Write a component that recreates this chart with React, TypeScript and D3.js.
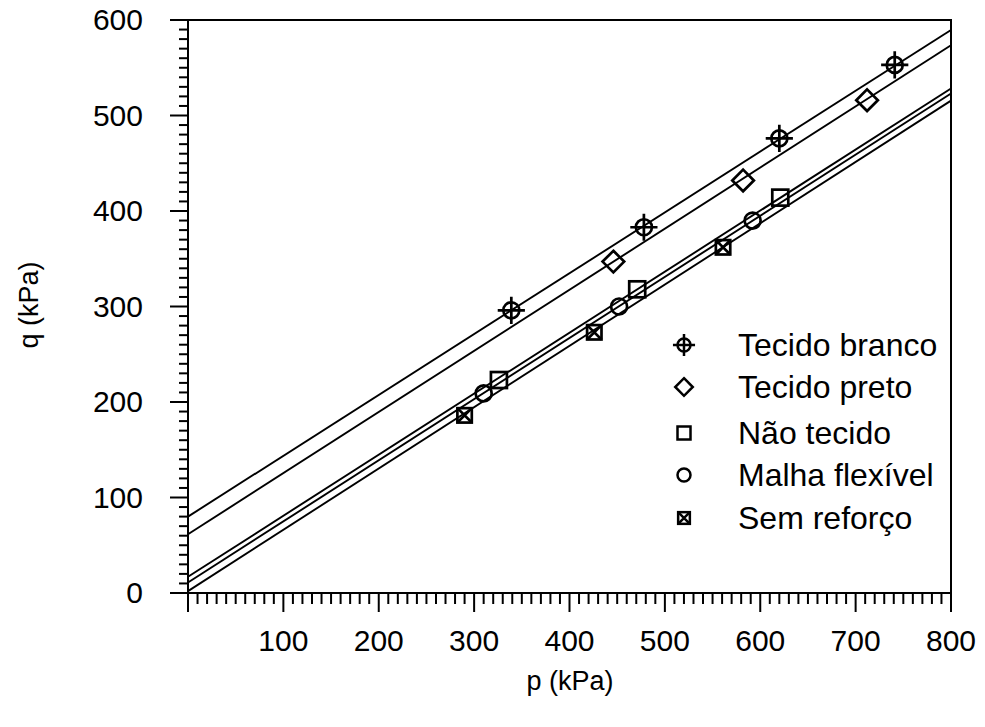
import { useEffect, useRef } from "react";
import * as d3 from "d3";

// series names (legend order)
const seriesNames = ["Tecido branco", "Tecido preto", "Não tecido", "Malha flexível", "Sem reforço"];
const seriesMarkers = ["crosshair", "diamond", "square", "circle", "xsquare"];

// measured points, p (kPa) and q (kPa)
const pTecidoBranco = [339, 478, 620, 741];
const qTecidoBranco = [296, 383, 476, 553];
const pTecidoPreto = [446, 582, 712];
const qTecidoPreto = [347, 432, 516];
const pNaoTecido = [326, 471, 621];
const qNaoTecido = [223, 318, 414];
const pMalha = [310, 452, 592];
const qMalha = [209, 300, 390];
const pSemReforco = [290, 426, 561];
const qSemReforco = [186, 273, 362];

// fitted lines: q = a + b * p
const fitIntercepts = [80, 61.5, 17, 11, 2];
const fitSlopes = [0.637, 0.64, 0.639, 0.64, 0.642];

const xTicks = [100, 200, 300, 400, 500, 600, 700, 800];
const yTicks = [0, 100, 200, 300, 400, 500, 600];

export default function App() {
  const ref = useRef<SVGSVGElement>(null);

  useEffect(() => {
    if (!ref.current) return;
    const svg = d3.select(ref.current);
    svg.selectAll("*").remove();

    const font = "'Liberation Sans', Arial, sans-serif";
    const x = d3.scaleLinear().domain([0, 800]).range([188, 951]);
    const y = d3.scaleLinear().domain([0, 600]).range([593, 20]);

    const pts = [
      [pTecidoBranco, qTecidoBranco],
      [pTecidoPreto, qTecidoPreto],
      [pNaoTecido, qNaoTecido],
      [pMalha, qMalha],
      [pSemReforco, qSemReforco],
    ];

    // fit lines
    const line = d3.line<number>().x((p) => x(p));
    const g = svg.append("g");
    fitIntercepts.forEach((a, i) => {
      const b = fitSlopes[i];
      const pEnd = Math.min(800, (600 - a) / b);
      g.append("path")
        .attr("d", line.y((p) => y(a + b * p))([0, pEnd]))
        .attr("fill", "none")
        .attr("stroke", "#000")
        .attr("stroke-width", 1.9);
    });

    const drawMarker = (sel: any, type: string, cx: number, cy: number, s: number, sw: number) => {
      const m = sel.append("g").attr("transform", `translate(${cx},${cy})`)
        .attr("fill", "none").attr("stroke", "#000").attr("stroke-width", sw);
      if (type === "crosshair") {
        m.append("circle").attr("r", s);
        m.append("path").attr("d", `M${-s * 1.7},0H${s * 1.7}M0,${-s * 1.7}V${s * 1.7}`);
      } else if (type === "diamond") {
        m.append("path").attr("d", `M0,${-s * 1.35}L${s * 1.35},0L0,${s * 1.35}L${-s * 1.35},0Z`);
      } else if (type === "square") {
        m.append("rect").attr("x", -s).attr("y", -s).attr("width", 2 * s).attr("height", 2 * s);
      } else if (type === "circle") {
        m.append("circle").attr("r", s);
      } else {
        m.append("rect").attr("x", -s * 0.9).attr("y", -s * 0.9).attr("width", 1.8 * s).attr("height", 1.8 * s);
        m.append("path").attr("d", `M${-s * 0.9},${-s * 0.9}L${s * 0.9},${s * 0.9}M${s * 0.9},${-s * 0.9}L${-s * 0.9},${s * 0.9}`);
      }
    };

    pts.forEach(([ps, qs], i) => {
      ps.forEach((p, j) => drawMarker(svg, seriesMarkers[i], x(p), y(qs[j]), 8, 2.7));
    });

    // frame
    svg.append("rect")
      .attr("x", x(0)).attr("y", y(600))
      .attr("width", x(800) - x(0)).attr("height", y(0) - y(600))
      .attr("fill", "none").attr("stroke", "#000").attr("stroke-width", 2);

    // ticks: major every 100, minor every 10, drawn outward
    const ax = svg.append("g").attr("stroke", "#000").attr("stroke-width", 2);
    d3.range(0, 801, 10).forEach((v) => {
      const major = v % 100 === 0;
      ax.append("line").attr("x1", x(v)).attr("x2", x(v))
        .attr("y1", y(0)).attr("y2", y(0) + (major ? 19 : 11));
    });
    d3.range(0, 601, 10).forEach((v) => {
      const major = v % 100 === 0;
      ax.append("line").attr("y1", y(v)).attr("y2", y(v))
        .attr("x1", x(0)).attr("x2", x(0) - (major ? 18 : 9));
    });

    svg.append("g").selectAll("text").data(xTicks).enter().append("text")
      .attr("x", (d) => x(d)).attr("y", 651)
      .attr("text-anchor", "middle")
      .style("font-family", font).style("font-size", "30px")
      .text((d) => d);

    svg.append("g").selectAll("text").data(yTicks).enter().append("text")
      .attr("x", 143).attr("y", (d) => y(d) + 10)
      .attr("text-anchor", "end")
      .style("font-family", font).style("font-size", "30px")
      .text((d) => d);

    svg.append("text").attr("x", 570).attr("y", 690).attr("text-anchor", "middle")
      .style("font-family", font).style("font-size", "27px").text("p (kPa)");
    svg.append("text").attr("transform", "translate(38,305) rotate(-90)").attr("text-anchor", "middle")
      .style("font-family", font).style("font-size", "27px").text("q (kPa)");

    // legend
    const legendY = [345, 387, 433, 475, 518];
    seriesNames.forEach((name, i) => {
      drawMarker(svg, seriesMarkers[i], 684, legendY[i], 6.5, 2.5);
      svg.append("text").attr("x", 738).attr("y", legendY[i] + 11)
        .style("font-family", font).style("font-size", "32px").text(name);
    });
  }, []);

  return (
    <svg ref={ref} width={985} height={727}
      style={{ position: "absolute", left: 0, top: 0, background: "#fff" }} />
  );
}
